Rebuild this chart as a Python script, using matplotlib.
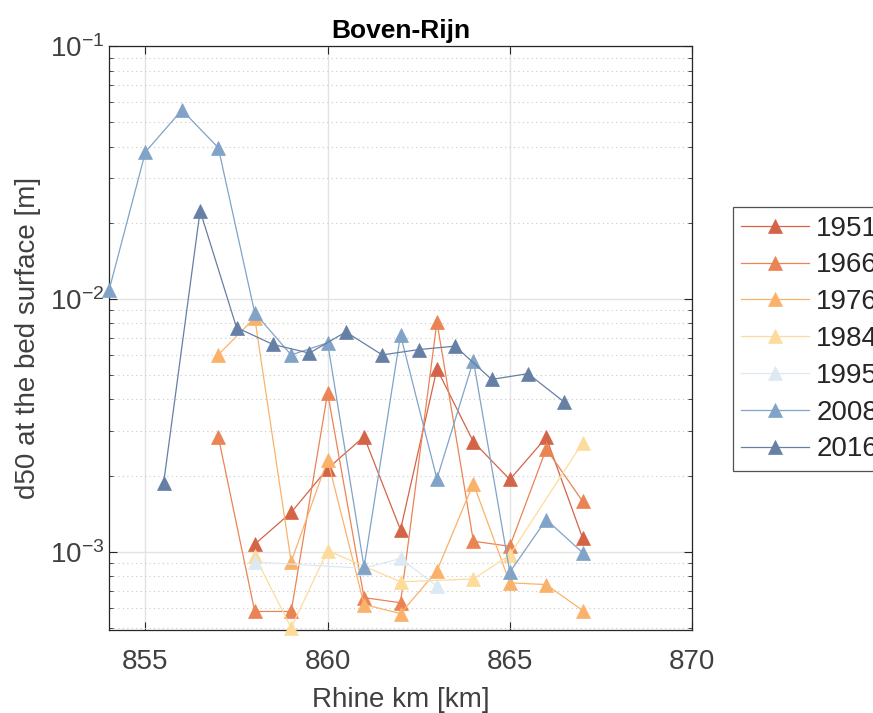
import matplotlib.pyplot as plt
from matplotlib.ticker import LogLocator, NullFormatter, FixedLocator

plt.rcParams["font.family"] = ["Liberation Sans", "DejaVu Sans"]

years = ["1951", "1966", "1976", "1984", "1995", "2008", "2016"]
colors = ["#d46448", "#eb8454", "#fab26a", "#fddc9b", "#dce9f3", "#81a3c7", "#667fa5"]

km_1951 = [858, 859, 860, 861, 862, 863, 864, 865, 866, 867]
d50_1951 = [1.07e-3, 1.43e-3, 2.13e-3, 2.85e-3, 1.22e-3, 5.28e-3, 2.72e-3, 1.93e-3, 2.83e-3, 1.13e-3]

km_1966 = [857, 858, 859, 860, 861, 862, 863, 864, 865, 866, 867]
d50_1966 = [2.85e-3, 5.8e-4, 5.8e-4, 4.25e-3, 6.58e-4, 6.28e-4, 8.11e-3, 1.10e-3, 1.05e-3, 2.55e-3, 1.58e-3]

km_1976 = [857, 858, 859, 860, 861, 862, 863, 864, 865, 866, 867]
d50_1976 = [6.01e-3, 8.41e-3, 9.12e-4, 2.31e-3, 6.18e-4, 5.69e-4, 8.4e-4, 1.86e-3, 7.53e-4, 7.41e-4, 5.85e-4]

km_1984 = [858, 859, 860, 862, 864, 865, 867]
d50_1984 = [9.6e-4, 5.0e-4, 1.01e-3, 7.6e-4, 7.8e-4, 9.7e-4, 2.7e-3]

km_1995 = [858, 861, 862, 863]
d50_1995 = [9.1e-4, 8.6e-4, 9.4e-4, 7.3e-4]

km_2008 = [854, 855, 856, 857, 858, 859, 860, 861, 862, 863, 864, 865, 866, 867]
d50_2008 = [0.0108, 0.0381, 0.0558, 0.0396, 8.8e-3, 6.0e-3, 6.7e-3, 8.7e-4, 7.2e-3,
            1.94e-3, 5.7e-3, 8.3e-4, 1.34e-3, 9.9e-4]

km_2016 = [855.5, 856.5, 857.5, 858.5, 859.5, 860.5, 861.5, 862.5, 863.5, 864.5, 865.5, 866.5]
d50_2016 = [1.87e-3, 0.0223, 7.7e-3, 6.6e-3, 6.1e-3, 7.4e-3, 6.0e-3, 6.3e-3, 6.5e-3,
            4.8e-3, 5.06e-3, 3.9e-3]

series = [
    (km_1951, d50_1951),
    (km_1966, d50_1966),
    (km_1976, d50_1976),
    (km_1984, d50_1984),
    (km_1995, d50_1995),
    (km_2008, d50_2008),
    (km_2016, d50_2016),
]

txt = "#404040"

fig = plt.figure(figsize=(8.73, 7.13), dpi=100)
ax = fig.add_axes([109 / 873, 1 - 630 / 713, (692 - 109) / 873, (630 - 46) / 713])

for (km, d50), year, c in zip(series, years, colors):
    ax.plot(km, d50, color=c, lw=0.9, marker="^", markersize=10,
            markerfacecolor=c, markeredgecolor=c, markeredgewidth=0.5,
            label=year, clip_on=False, zorder=3)

ax.set_yscale("log")
ax.set_xlim(854, 870)
ax.set_ylim(4.9e-4, 0.1)
ax.xaxis.set_major_locator(FixedLocator([855, 860, 865, 870]))
ax.yaxis.set_major_locator(LogLocator(base=10, numticks=10))
ax.yaxis.set_minor_locator(LogLocator(base=10, subs=range(2, 10), numticks=10))
ax.yaxis.set_minor_formatter(NullFormatter())

ax.grid(True, which="major", color="#e3e3e3", lw=1.0, zorder=0)
ax.grid(True, which="minor", axis="y", color="#c8c8c8", lw=0.8, ls=(0, (1, 3)), zorder=0)

ax.tick_params(which="both", direction="in", top=True, right=True,
               colors="#262626", labelcolor=txt, labelsize=20)
ax.tick_params(which="major", length=6, width=0.8)
ax.tick_params(which="minor", length=3, width=0.6)
ax.tick_params(axis="x", which="major", pad=13.5)
for sp in ax.spines.values():
    sp.set_color("#262626")
    sp.set_linewidth(0.9)

ax.set_xlabel("Rhine km [km]", fontsize=20, color=txt, labelpad=9)
ax.set_ylabel("d50 at the bed surface [m]", fontsize=20, color=txt, labelpad=6)
ax.set_title("Boven-Rijn", fontsize=19, fontweight="bold", color="black", pad=6)

# legend sits right of the axes, vertically centred on them
leg = ax.legend(loc="center left", bbox_to_anchor=(733 / 873, 1 - 339 / 713),
                bbox_transform=fig.transFigure, fontsize=20, frameon=True,
                fancybox=False, edgecolor="#262626", handlelength=2.45,
                handletextpad=0.25, borderpad=0.3, labelspacing=0.39,
                borderaxespad=0)
leg.get_frame().set_linewidth(0.9)
for t in leg.get_texts():
    t.set_color("#262626")

fig.savefig("out.png", dpi=100)
